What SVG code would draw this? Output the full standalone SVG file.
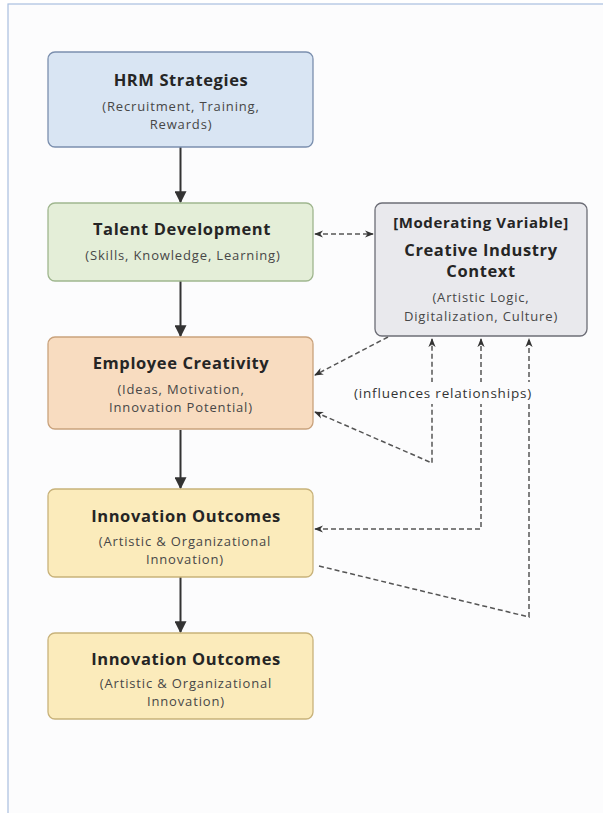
<svg xmlns="http://www.w3.org/2000/svg" width="603" height="813" viewBox="0 0 603 813">
  <style>
    .box { stroke-width: 1.3; }
    .title { font-family: "Open Sans", "Noto Sans", sans-serif; font-weight: 700; font-size: 16.5px; letter-spacing: 0.6px; fill: #252525; text-anchor: middle; }
    .sub { font-family: "Open Sans", "Noto Sans", sans-serif; font-size: 13px; letter-spacing: 0.85px; fill: #474747; text-anchor: middle; }
    .label { font-family: "Open Sans", "Noto Sans", sans-serif; font-size: 13.5px; letter-spacing: 0.8px; fill: #333; text-anchor: middle; }
    .solid { stroke: #333; stroke-width: 2; fill: none; }
    .dash { stroke: #555; stroke-width: 1.5; fill: none; stroke-dasharray: 5 3; }
  </style>
  <defs>
    <marker id="arrowSolid" viewBox="0 0 10 10" refX="9" refY="5" markerWidth="6" markerHeight="6" orient="auto">
      <path d="M0,0 L10,5 L0,10 Z" fill="#333"/>
    </marker>
    <marker id="arrowDash" viewBox="0 0 10 10" refX="9" refY="5" markerWidth="6" markerHeight="6" orient="auto-start-reverse">
      <path d="M0,1 L10,5 L0,9 L3,5 Z" fill="#333"/>
    </marker>
  </defs>

  <!-- page -->
  <rect x="0" y="0" width="603" height="813" fill="#ffffff"/>
  <rect x="8" y="4" width="600" height="820" fill="#fcfcfd" stroke="#a9bfdf" stroke-width="1.2"/>

  <!-- connectors -->
  <g id="connectors">
    <line class="solid" x1="180.5" y1="147" x2="180.5" y2="202" marker-end="url(#arrowSolid)"/>
    <line class="solid" x1="180.5" y1="281" x2="180.5" y2="336" marker-end="url(#arrowSolid)"/>
    <line class="solid" x1="180.5" y1="430" x2="180.5" y2="488" marker-end="url(#arrowSolid)"/>
    <line class="solid" x1="180.5" y1="577" x2="180.5" y2="632" marker-end="url(#arrowSolid)"/>

    <!-- talent development <-> context -->
    <line class="dash" x1="315" y1="234" x2="373" y2="234" marker-start="url(#arrowDash)" marker-end="url(#arrowDash)"/>
    <!-- context -> employee creativity -->
    <line class="dash" x1="388" y1="337" x2="315" y2="375" marker-end="url(#arrowDash)"/>
    <!-- feedback paths into the context box -->
    <polyline class="dash" points="315,412 432,463 432,339" marker-start="url(#arrowDash)" marker-end="url(#arrowDash)"/>
    <polyline class="dash" points="315,529 481,529 481,339" marker-start="url(#arrowDash)" marker-end="url(#arrowDash)"/>
    <polyline class="dash" points="319,566 529,617 529,339" marker-end="url(#arrowDash)"/>

    <!-- label over the vertical lines -->
    <rect x="348" y="382" width="192" height="22" fill="#fcfcfd"/>
    <text class="label" x="443" y="398">(influences relationships)</text>
  </g>

  <g id="hrm">
    <rect class="box" x="48" y="52" width="265" height="95" rx="7" fill="#d9e5f3" stroke="#7b8fae"/>
    <text class="title" x="181" y="86">HRM Strategies</text>
    <text class="sub" x="181" y="111">(Recruitment, Training,</text>
    <text class="sub" x="181" y="129">Rewards)</text>
  </g>

  <g id="talent">
    <rect class="box" x="48" y="203" width="265" height="78" rx="7" fill="#e4eed8" stroke="#9fb68e"/>
    <text class="title" x="182" y="235">Talent Development</text>
    <text class="sub" x="183" y="260">(Skills, Knowledge, Learning)</text>
  </g>

  <g id="context">
    <rect class="box" x="375" y="203" width="212" height="133" rx="7" fill="#e9e9ed" stroke="#6c6d76"/>
    <text class="title" x="481" y="228" style="font-size:15px">[Moderating Variable]</text>
    <text class="title" x="481" y="256">Creative Industry</text>
    <text class="title" x="481" y="277">Context</text>
    <text class="sub" x="481" y="302">(Artistic Logic,</text>
    <text class="sub" x="481" y="321">Digitalization, Culture)</text>
  </g>

  <g id="creativity">
    <rect class="box" x="48" y="337" width="265" height="92" rx="7" fill="#f8dcc0" stroke="#c9a27c"/>
    <text class="title" x="181" y="369">Employee Creativity</text>
    <text class="sub" x="181" y="394">(Ideas, Motivation,</text>
    <text class="sub" x="181" y="412">Innovation Potential)</text>
  </g>

  <g id="outcomes1">
    <rect class="box" x="48" y="489" width="265" height="88" rx="7" fill="#fbebbb" stroke="#c8b27a"/>
    <text class="title" x="186" y="522">Innovation Outcomes</text>
    <text class="sub" x="185" y="546">(Artistic &amp; Organizational</text>
    <text class="sub" x="185" y="564">Innovation)</text>
  </g>

  <g id="outcomes2">
    <rect class="box" x="48" y="633" width="265" height="86" rx="7" fill="#fbebbb" stroke="#c8b27a"/>
    <text class="title" x="186" y="665">Innovation Outcomes</text>
    <text class="sub" x="186" y="688">(Artistic &amp; Organizational</text>
    <text class="sub" x="186" y="706">Innovation)</text>
  </g>
</svg>
